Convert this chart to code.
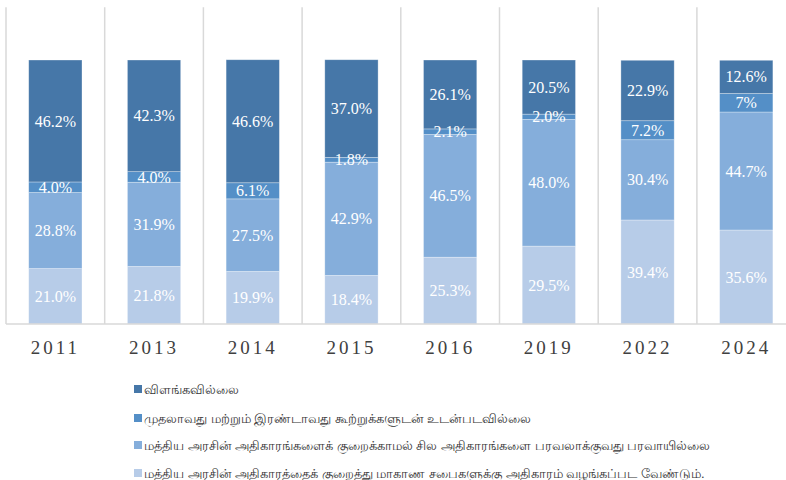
<!DOCTYPE html>
<html>
<head>
<meta charset="utf-8">
<script src="https://cdn.jsdelivr.net/npm/d3@7"></script>
<style>
  body { margin: 0; background: #fff; }
</style>
</head>
<body>
<div id="chart"></div>
<script>
const years = ['2011', '2013', '2014', '2015', '2016', '2019', '2022', '2024']

// bottom to top
const devolveMust = [21.0, 21.8, 19.9, 18.4, 25.3, 29.5, 39.4, 35.6]
const devolveSome = [28.8, 31.9, 27.5, 42.9, 46.5, 48.0, 30.4, 44.7]
const disagreeBoth = [4.0, 4.0, 6.1, 1.8, 2.1, 2.0, 7.2, 7]
const dontKnow = [46.2, 42.3, 46.6, 37.0, 26.1, 20.5, 22.9, 12.6]
const labelText = [
  ['21.0%', '21.8%', '19.9%', '18.4%', '25.3%', '29.5%', '39.4%', '35.6%'],
  ['28.8%', '31.9%', '27.5%', '42.9%', '46.5%', '48.0%', '30.4%', '44.7%'],
  ['4.0%', '4.0%', '6.1%', '1.8%', '2.1%', '2.0%', '7.2%', '7%'],
  ['46.2%', '42.3%', '46.6%', '37.0%', '26.1%', '20.5%', '22.9%', '12.6%']
]

const seriesNames = [
  'மத்திய அரசின் அதிகாரத்தைக் குறைத்து மாகாண சபைகளுக்கு அதிகாரம் வழங்கப்பட வேண்டும்.',
  'மத்திய அரசின் அதிகாரங்களைக் குறைக்காமல் சில அதிகாரங்களை பரவலாக்குவது பரவாயில்லை',
  'முதலாவது மற்றும் இரண்டாவது கூற்றுக்களுடன் உடன்படவில்லை',
  'விளங்கவில்லை'
]
const colors = ['#b7cce8', '#85aedb', '#548fc7', '#4677a8']

const width = 786
const height = 480

const svg = d3
  .select('#chart')
  .append('svg')
  .attr('width', width)
  .attr('height', height)
  .style('font-family', "'Liberation Serif', 'Times New Roman', serif")

const data = years.map((y, i) => ({
  year: y,
  s0: devolveMust[i],
  s1: devolveSome[i],
  s2: disagreeBoth[i],
  s3: dontKnow[i]
}))

const keys = ['s0', 's1', 's2', 's3']
const stacked = d3.stack().keys(keys)(data)

const xScale = d3
  .scaleBand()
  .domain(years)
  .range([6, 6 + 8 * 98.7])
  .paddingInner(0.46)
  .paddingOuter(0.23)

const yScale = d3
  .scaleLinear()
  .domain([0, 120])
  .range([324, 7.2])

// vertical grid lines between categories
const step = xScale.step()
const bounds = d3.range(years.length + 1).map(i => xScale.range()[0] + i * step)
svg
  .selectAll('.grid')
  .data(bounds)
  .enter()
  .append('line')
  .attr('class', 'grid')
  .attr('x1', d => d)
  .attr('x2', d => d)
  .attr('y1', yScale(120))
  .attr('y2', yScale(0))
  .attr('stroke', '#d9d9d9')
  .attr('stroke-width', 1.5)

const layers = svg
  .selectAll('.layer')
  .data(stacked)
  .enter()
  .append('g')
  .attr('class', 'layer')
  .attr('fill', (d, i) => colors[i])

layers
  .selectAll('rect')
  .data(d => d)
  .enter()
  .append('rect')
  .attr('x', d => xScale(d.data.year))
  .attr('width', xScale.bandwidth())
  .attr('y', d => yScale(d[1]))
  .attr('height', d => yScale(d[0]) - yScale(d[1]))
  .attr('stroke', 'rgba(255,255,255,0.45)')
  .attr('stroke-width', 0.7)

// baseline
svg
  .append('line')
  .attr('x1', 6)
  .attr('x2', width)
  .attr('y1', yScale(0))
  .attr('y2', yScale(0))
  .attr('stroke', '#d9d9d9')
  .attr('stroke-width', 1.5)

// value labels
stacked.forEach((layer, li) => {
  svg
    .selectAll('.lbl-' + li)
    .data(layer)
    .enter()
    .append('text')
    .attr('class', 'lbl-' + li)
    .attr('x', d => xScale(d.data.year) + xScale.bandwidth() / 2)
    .attr('y', d => yScale((d[0] + d[1]) / 2))
    .attr('dy', '0.35em')
    .attr('text-anchor', 'middle')
    .attr('fill', '#fff')
    .attr('font-size', 16)
    .text((d, i) => labelText[li][i])
})

// year labels
svg
  .selectAll('.year')
  .data(years)
  .enter()
  .append('text')
  .attr('class', 'year')
  .attr('x', d => xScale(d) + xScale.bandwidth() / 2)
  .attr('y', 354)
  .attr('text-anchor', 'middle')
  .attr('fill', '#404040')
  .attr('font-size', 19)
  .attr('letter-spacing', 3)
  .text(d => d)

// legend, top item is the last series
const legendRows = [3, 2, 1, 0]
const legendY = [389, 418, 445, 473]
const legend = svg
  .selectAll('.legend')
  .data(legendRows)
  .enter()
  .append('g')
  .attr('class', 'legend')
  .attr('transform', (d, i) => 'translate(134,' + legendY[i] + ')')

legend
  .append('rect')
  .attr('x', 0)
  .attr('y', -4)
  .attr('width', 8)
  .attr('height', 8)
  .attr('fill', d => colors[d])

legend
  .append('text')
  .attr('x', 10)
  .attr('y', 0)
  .attr('dy', '0.35em')
  .attr('fill', '#333')
  .attr('font-size', 13)
  .style('font-family', 'sans-serif')
  .text(d => seriesNames[d])
</script>
</body>
</html>
